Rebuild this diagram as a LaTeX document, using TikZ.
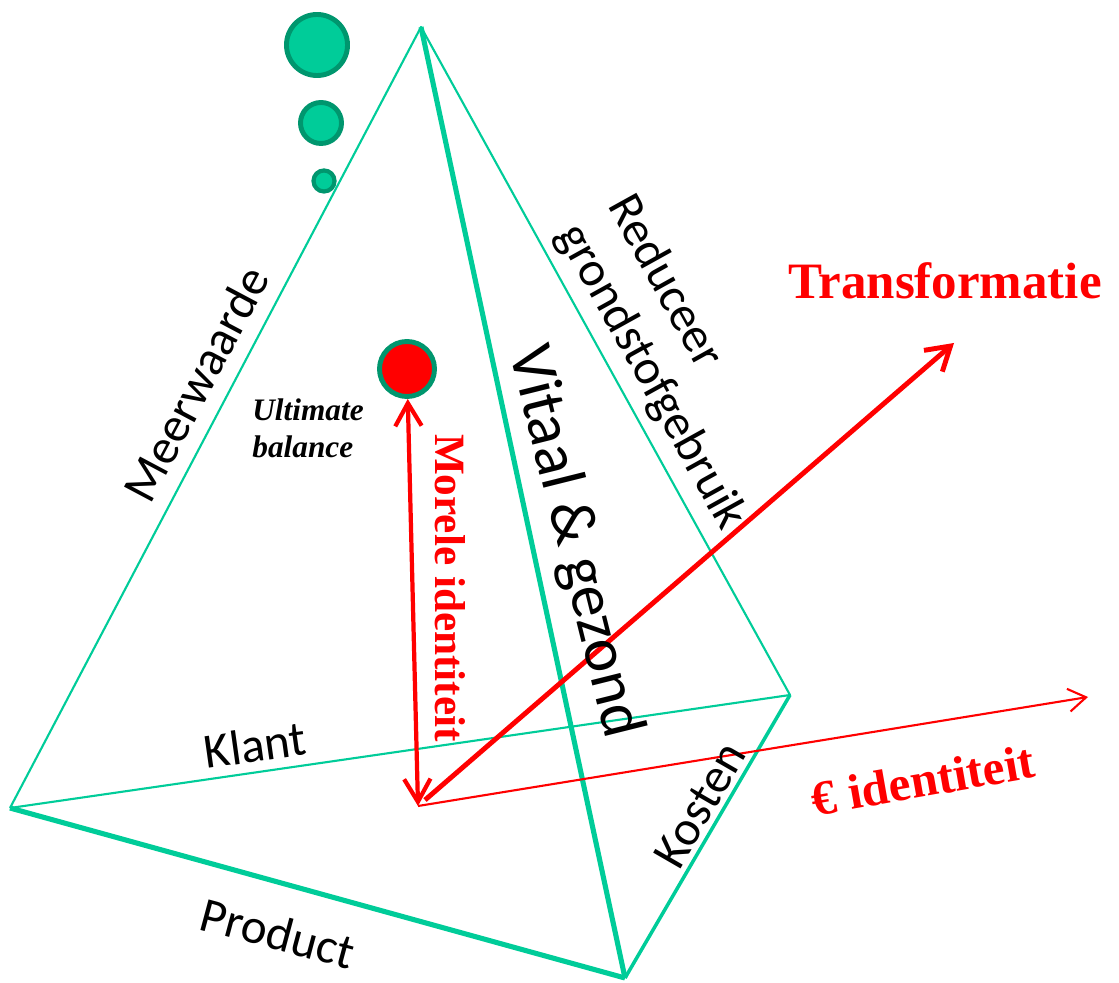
\documentclass[tikz,border=0pt]{standalone}
\usepackage{fontspec}
\setmainfont{Liberation Serif}
\newfontfamily\edgefont{Carlito}
\usetikzlibrary{arrows.meta}
\definecolor{PyraGreen}{RGB}{0,204,153}
\definecolor{PyraDark}{RGB}{0,150,110}
\definecolor{PyraRed}{RGB}{255,0,0}

\begin{document}
\begin{tikzpicture}[
    x=0.01cm, y=-0.01cm,
    edge/.style = {draw=PyraGreen, line width=0.6pt, line join=round},
    heavy/.style = {edge, line width=1.45pt},
    medium/.style = {edge, line width=1pt},
    bubble/.style = {circle, draw=PyraDark, fill=PyraGreen, line width=1.4pt, inner sep=0pt},
    side/.style = {font=\edgefont\fontsize{14}{16.5}\selectfont, text=black, inner sep=0pt},
    redtext/.style = {text=PyraRed, font=\bfseries\fontsize{14.5}{17}\selectfont, inner sep=0pt},
    axis/.style = {draw=PyraRed, line width=1.2pt},
    thinaxis/.style = {draw=PyraRed, line width=0.6pt}
]
\useasboundingbox (0,0) rectangle (1119,983);
% Corners of the pyramid
\coordinate (apex) at (421,27);
\coordinate (left) at (10,808);
\coordinate (front) at (625,978);
\coordinate (right) at (790,695);
\coordinate (origin) at (418,806);
% Edges
\draw[edge] (left) -- (apex) -- (right) -- (left);
\draw[heavy] (apex) -- (front);
\draw[heavy] (left) -- (front);
\draw[medium] (front) -- (right);
% Bubbles
\node[bubble, minimum size=0.61cm] (big) at (317,45) {};
\node[bubble, minimum size=0.41cm] (mid) at (321,123) {};
\node[bubble, minimum size=0.21cm, line width=1.2pt] (small) at (324,181) {};
\node[bubble, fill=PyraRed, minimum size=0.55cm] (dot) at (407,369) {};
% Axes
\draw[thinaxis, -{Straight Barb[length=5pt, width=6.5pt]}] (origin) -- (1088,697) coordinate (euro);
\draw[axis, line width=1.4pt, -{Straight Barb[length=6.5pt, width=8pt]}] (425,800) -- (954,343) coordinate (trans);
\draw[axis, {Straight Barb[length=6.5pt, width=7.5pt]}-{Straight Barb[length=6.5pt, width=7.5pt]}] (dot) -- (origin);
% Edge labels
\node[side, rotate=62] (meer) at (196,384) {Meerwaarde};
\node[side, rotate=-61, align=left] (redu) at (676,363) {Reduceer\\grondstofgebruik};
\node[side, rotate=-76, font=\edgefont\fontsize{18}{20}\selectfont] (vitaal) at (574,542) {Vitaal \& gezond};
\node[side, rotate=8] (klant) at (255,745) {Klant};
\node[side, rotate=60] (kosten) at (700,805) {Kosten};
\node[side, rotate=-15] (product) at (278,933) {Product};
% Red labels
\node[redtext] (transtxt) at (945,281) {Transformatie};
\node[redtext, rotate=10, font=\bfseries\fontsize{14}{16}\selectfont] (eurotxt) at (923,780) {€ identiteit};
\node[redtext, rotate=-90, font=\bfseries\fontsize{12.3}{14}\selectfont] (moreel) at (450,588) {Morele identiteit};
\node[align=left, inner sep=0pt, font=\bfseries\itshape\fontsize{8.9}{10.5}\selectfont] (balance) at (308,428) {Ultimate\\balance};
\end{tikzpicture}
\end{document}
